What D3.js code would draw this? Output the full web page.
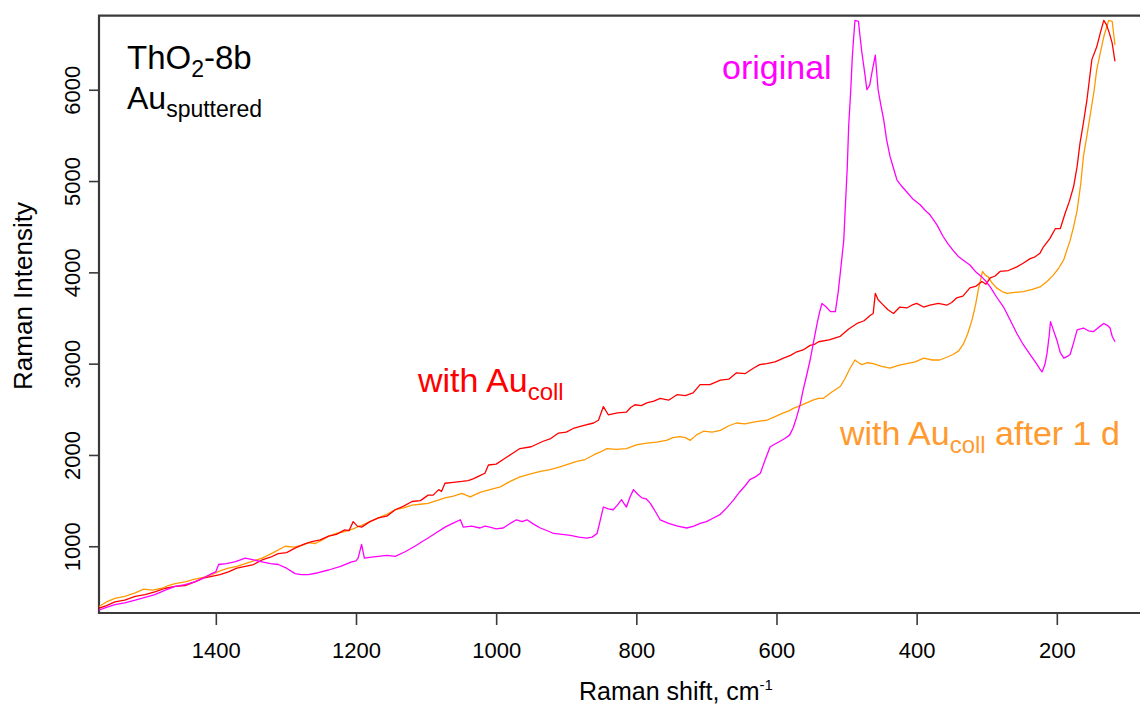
<!DOCTYPE html>
<html>
<head>
<meta charset="utf-8">
<script src="https://cdn.jsdelivr.net/npm/d3@7/dist/d3.min.js"></script>
<style>
  html, body { margin: 0; padding: 0; background: #fff; }
  svg text { font-family: "Liberation Sans", Arial, Helvetica, sans-serif; }
</style>
</head>
<body>
<svg id="chart" width="1140" height="713"></svg>
<script>
// Raman spectra of ThO2-8b with sputtered Au: [shift cm^-1, intensity]
const original = [[1567,300],[1556,330],[1544,360],[1530,380],[1515,410],[1501,440],[1487,470],[1472,520],[1458,560],[1444,580],[1430,610],[1418,650],[1406,700],[1400,720],[1396,800],[1385,810],[1373,830],[1365,850],[1358,870],[1346,850],[1334,830],[1322,810],[1311,800],[1299,760],[1287,700],[1278,690],[1268,690],[1254,710],[1239,740],[1222,780],[1206,830],[1200,840],[1197,870],[1192,1020],[1188,870],[1178,880],[1168,890],[1156,900],[1144,890],[1130,940],[1116,1000],[1106,1050],[1097,1090],[1085,1150],[1073,1210],[1062,1250],[1051,1290],[1047,1210],[1035,1220],[1023,1200],[1016,1220],[1009,1210],[1000,1190],[990,1200],[980,1250],[971,1290],[963,1270],[956,1290],[946,1240],[937,1200],[927,1170],[918,1140],[906,1130],[894,1120],[882,1100],[871,1090],[863,1100],[856,1140],[851,1300],[847,1430],[840,1410],[833,1400],[827,1450],[821,1510],[817,1460],[814,1430],[809,1540],[804,1620],[798,1570],[792,1530],[786,1520],[780,1470],[772,1370],[766,1290],[760,1270],[754,1250],[741,1220],[728,1200],[718,1220],[709,1250],[700,1270],[690,1310],[680,1350],[671,1420],[662,1500],[652,1600],[645,1660],[638,1730],[630,1760],[623,1800],[616,1950],[609,2090],[602,2120],[595,2150],[588,2180],[581,2220],[576,2300],[571,2420],[566,2560],[562,2710],[557,2870],[552,3040],[547,3240],[542,3440],[538,3580],[535,3660],[529,3620],[523,3570],[516,3570],[512,3780],[509,3990],[504,4350],[502,4680],[499,5150],[497,5600],[494,6000],[492,6330],[490,6560],[488,6760],[483,6750],[481,6600],[478,6400],[474,6180],[471,6000],[467,6050],[464,6180],[459,6380],[455,6000],[451,5830],[447,5670],[443,5460],[438,5270],[433,5140],[428,5010],[421,4940],[414,4880],[405,4800],[395,4740],[388,4680],[381,4630],[371,4520],[362,4390],[355,4310],[348,4240],[340,4170],[333,4130],[324,4080],[315,4000],[307,3950],[301,3900],[295,3840],[286,3730],[276,3620],[266,3470],[257,3330],[248,3210],[238,3100],[230,3010],[224,2940],[221,2910],[217,2990],[214,3110],[211,3300],[209,3460],[205,3370],[200,3260],[195,3120],[190,3060],[185,3080],[181,3100],[176,3230],[171,3370],[166,3380],[162,3390],[155,3360],[148,3350],[140,3400],[133,3440],[128,3420],[124,3390],[121,3300],[117,3240]];

const withAuColl = [[1567,320],[1556,350],[1544,390],[1530,410],[1515,450],[1501,470],[1487,500],[1472,540],[1458,560],[1444,570],[1430,610],[1418,650],[1406,670],[1394,690],[1382,720],[1370,760],[1358,780],[1346,800],[1334,850],[1322,880],[1311,920],[1299,930],[1287,980],[1275,1020],[1263,1050],[1251,1070],[1239,1110],[1228,1130],[1216,1180],[1210,1170],[1204,1270],[1198,1220],[1192,1210],[1180,1270],[1168,1310],[1156,1330],[1144,1400],[1132,1440],[1120,1490],[1108,1500],[1097,1560],[1090,1560],[1082,1620],[1078,1600],[1073,1690],[1061,1700],[1049,1710],[1040,1720],[1032,1740],[1024,1770],[1016,1800],[1011,1890],[1000,1900],[990,1950],[978,2010],[966,2070],[950,2090],[933,2150],[922,2180],[911,2240],[900,2250],[890,2290],[876,2320],[861,2350],[854,2380],[847,2530],[840,2440],[827,2460],[814,2470],[808,2520],[802,2550],[793,2540],[785,2570],[775,2590],[766,2620],[754,2600],[742,2660],[730,2650],[719,2680],[709,2770],[695,2770],[680,2820],[668,2830],[657,2900],[645,2890],[633,2950],[624,2990],[614,3000],[602,3020],[590,3060],[580,3090],[571,3130],[562,3150],[552,3200],[546,3210],[540,3240],[525,3260],[509,3300],[497,3380],[485,3440],[475,3470],[466,3530],[462,3550],[459,3770],[455,3700],[450,3660],[441,3590],[433,3550],[424,3620],[414,3610],[407,3640],[400,3660],[390,3620],[381,3640],[369,3660],[357,3640],[350,3670],[343,3720],[334,3740],[324,3830],[315,3850],[307,3900],[301,3870],[295,3940],[288,3960],[281,4010],[269,4020],[257,4060],[248,4100],[238,4150],[231,4170],[224,4210],[219,4280],[210,4370],[202,4480],[195,4480],[188,4650],[182,4780],[176,4940],[171,5160],[167,5410],[162,5640],[157,5890],[150,6330],[143,6470],[138,6620],[133,6760],[129,6710],[125,6620],[121,6510],[117,6310]];

const withAuCollAfter1d = [[1567,340],[1556,390],[1544,430],[1530,450],[1515,490],[1503,530],[1490,520],[1477,540],[1468,570],[1458,590],[1444,610],[1430,640],[1418,660],[1406,690],[1394,730],[1382,760],[1370,780],[1358,810],[1346,840],[1334,870],[1318,930],[1301,1000],[1289,990],[1277,1010],[1268,1040],[1258,1030],[1248,1070],[1239,1110],[1228,1140],[1216,1160],[1204,1190],[1192,1230],[1180,1270],[1168,1310],[1156,1350],[1144,1400],[1132,1420],[1120,1450],[1108,1460],[1097,1470],[1085,1500],[1073,1530],[1061,1550],[1049,1580],[1043,1560],[1037,1540],[1023,1590],[1009,1620],[994,1650],[980,1710],[966,1760],[952,1790],[937,1820],[923,1840],[909,1870],[897,1900],[885,1930],[873,1950],[861,2000],[852,2030],[842,2070],[828,2060],[814,2070],[800,2110],[785,2130],[771,2140],[757,2160],[748,2190],[738,2200],[730,2190],[723,2160],[714,2220],[704,2260],[692,2250],[680,2270],[668,2320],[657,2350],[645,2340],[633,2360],[624,2370],[614,2380],[602,2420],[590,2460],[583,2480],[576,2510],[566,2540],[557,2570],[548,2600],[540,2620],[533,2620],[521,2690],[509,2750],[502,2840],[495,2950],[488,3040],[483,3010],[478,2990],[470,3010],[462,3000],[450,2970],[438,2950],[426,2980],[414,3000],[402,3020],[390,3060],[378,3040],[367,3040],[357,3070],[348,3100],[340,3140],[333,3220],[327,3330],[321,3480],[316,3640],[312,3810],[306,4010],[302,3970],[298,3950],[292,3880],[286,3830],[278,3790],[271,3770],[260,3780],[248,3790],[236,3810],[224,3840],[214,3900],[205,3970],[197,4050],[190,4140],[181,4350],[176,4500],[171,4680],[166,4960],[162,5270],[157,5500],[152,5740],[147,5980],[143,6220],[138,6400],[133,6580],[126,6760],[121,6750],[117,6490]];

const xTicks = [1400, 1200, 1000, 800, 600, 400, 200];
const yTicks = [1000, 2000, 3000, 4000, 5000, 6000];
const xDomain = [1566.7, 81.3];
const yDomain = [269, 6811];

const svg = d3.select("#chart");
const plot = { left: 99, right: 1140, top: 15.7, bottom: 613 };

const x = d3.scaleLinear().domain(xDomain).range([plot.left, plot.right]);
const y = d3.scaleLinear().domain(yDomain).range([plot.bottom, plot.top]);

const axisColor = "#3a3a3a";
const fontFam = '"Liberation Sans", Arial, sans-serif';

// x axis
const gx = svg.append("g")
  .attr("transform", `translate(0,${plot.bottom})`)
  .call(d3.axisBottom(x).tickValues(xTicks).tickFormat(d3.format("d"))
    .tickSize(12).tickSizeOuter(0).tickPadding(17));
gx.select(".domain").remove();
gx.selectAll(".tick line").attr("stroke", axisColor).attr("stroke-width", 1.6);
gx.selectAll(".tick text").attr("font-size", 22).attr("fill", "#000").style("font-family", fontFam);

// y axis with rotated labels
const gy = svg.append("g")
  .attr("transform", `translate(${plot.left},0)`)
  .call(d3.axisLeft(y).tickValues(yTicks).tickFormat(d3.format("d"))
    .tickSize(10).tickSizeOuter(0));
gy.select(".domain").remove();
gy.selectAll(".tick line").attr("stroke", axisColor).attr("stroke-width", 1.6);
gy.selectAll(".tick text")
  .attr("x", null).attr("dy", null)
  .attr("text-anchor", "middle")
  .attr("transform", "translate(-19,0) rotate(-90)")
  .attr("font-size", 22).attr("fill", "#000").style("font-family", fontFam);

// frame: left, top and bottom edges
svg.append("path")
  .attr("d", `M${plot.right + 5},${plot.top}H${plot.left}V${plot.bottom}H${plot.right + 5}`)
  .attr("fill", "none").attr("stroke", axisColor).attr("stroke-width", 2.2);

// spectra
svg.append("clipPath").attr("id", "plotclip")
  .append("rect").attr("x", plot.left).attr("y", plot.top - 2)
  .attr("width", plot.right - plot.left).attr("height", plot.bottom - plot.top + 2);

const line = d3.line().x(d => x(d[0])).y(d => y(d[1]));
const series = [
  { data: withAuCollAfter1d, color: "#ff9900" },
  { data: withAuColl, color: "#ff0000" },
  { data: original, color: "#ff00ff" }
];
svg.append("g").attr("clip-path", "url(#plotclip)")
  .selectAll("path").data(series).join("path")
  .attr("d", d => line(d.data))
  .attr("fill", "none")
  .attr("stroke", d => d.color)
  .attr("stroke-width", 1.3)
  .attr("stroke-linejoin", "round");

// sample title
const t1 = svg.append("text").attr("x", 127).attr("y", 69).attr("font-size", 33).attr("fill", "#000");
t1.append("tspan").text("ThO");
t1.append("tspan").attr("font-size", 23).attr("dy", 8).text("2");
t1.append("tspan").attr("dy", -8).text("-8b");

const t2 = svg.append("text").attr("x", 127).attr("y", 109).attr("font-size", 32).attr("fill", "#000");
t2.append("tspan").text("Au");
t2.append("tspan").attr("font-size", 23).attr("dy", 8).text("sputtered");

// series labels
svg.append("text").attr("x", 722).attr("y", 79).attr("font-size", 34)
  .attr("fill", "#ff00ff").text("original");

const lr = svg.append("text").attr("x", 418).attr("y", 392).attr("font-size", 34).attr("fill", "#ff0000");
lr.append("tspan").text("with Au");
lr.append("tspan").attr("font-size", 24).attr("dy", 8).text("coll");

const lo = svg.append("text").attr("x", 840).attr("y", 445).attr("font-size", 34).attr("fill", "#ff9a2e");
lo.append("tspan").text("with Au");
lo.append("tspan").attr("font-size", 24).attr("dy", 8).text("coll");
lo.append("tspan").attr("dy", -8).text(" after 1 d");

// axis titles
const xt = svg.append("text").attr("x", 579).attr("y", 700).attr("font-size", 25).attr("fill", "#000");
xt.append("tspan").text("Raman shift, cm");
xt.append("tspan").attr("font-size", 15).attr("dy", -10).text("-1");

svg.append("text")
  .attr("transform", "translate(32,296) rotate(-90)")
  .attr("text-anchor", "middle").attr("font-size", 26).attr("fill", "#000")
  .text("Raman Intensity");
</script>
</body>
</html>
